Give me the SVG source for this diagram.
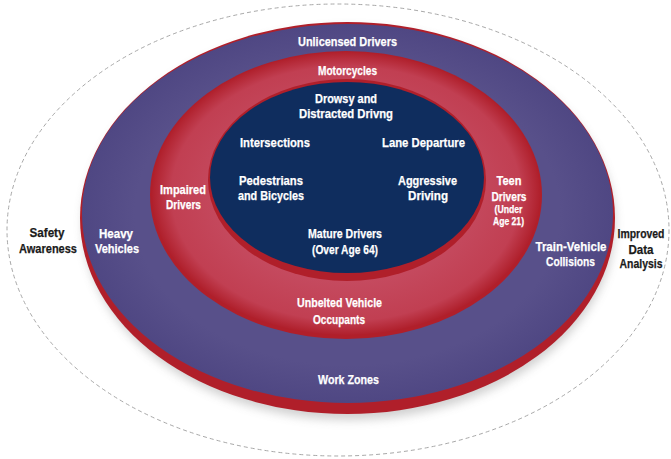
<svg xmlns="http://www.w3.org/2000/svg" width="671" height="459" viewBox="0 0 671 459">
<defs>
<style>
.w{font-family:"Liberation Sans",Arial,sans-serif;font-weight:bold;font-size:13.5px;fill:#ffffff;stroke:#ffffff;stroke-width:0.25;text-anchor:middle}
.s{font-size:11px}
.k{font-family:"Liberation Sans",Arial,sans-serif;font-weight:bold;font-size:13.5px;fill:#1a1a1a;stroke:#1a1a1a;stroke-width:0.25;text-anchor:middle}
</style>
<radialGradient id="pinkG" cx="0.5" cy="0.5" r="0.5">
<stop offset="0.6" stop-color="#c54b60"/>
<stop offset="0.9" stop-color="#c13f52"/>
<stop offset="1" stop-color="#b0202c"/>
</radialGradient>
<radialGradient id="purpG" cx="0.5" cy="0.5" r="0.5">
<stop offset="0.8" stop-color="#58508a"/>
<stop offset="1" stop-color="#4f4783"/>
</radialGradient>
<filter id="blur" x="-10%" y="-10%" width="120%" height="120%">
<feGaussianBlur stdDeviation="5"/>
</filter>
</defs>
<rect width="671" height="459" fill="#ffffff"/>
<ellipse id="dashed-boundary" cx="338" cy="230" rx="331" ry="226" fill="none" stroke="#a8a8a8" stroke-width="1" stroke-dasharray="4 3"/>
<g id="outer-ring">
<ellipse cx="349" cy="224" rx="266" ry="196" fill="#9a9a9a" opacity="0.45" filter="url(#blur)"/>
<ellipse cx="347.5" cy="218" rx="267.5" ry="196" fill="#b01f2a"/>
<ellipse cx="347.5" cy="213.5" rx="265.5" ry="189.5" fill="url(#purpG)"/>
</g>
<g id="middle-ring">
<ellipse cx="346" cy="195" rx="196" ry="144" fill="#b01f2a"/>
<ellipse cx="346" cy="193.5" rx="194" ry="141.5" fill="url(#pinkG)"/>
</g>
<g id="inner-core">
<ellipse cx="347" cy="180" rx="139" ry="101" fill="#b01f2a"/>
<ellipse cx="347" cy="177.5" rx="137" ry="95.5" fill="#0f2d5e"/>
</g>
<g id="labels-outer">
<text class="w" x="347.5" y="46" textLength="99" lengthAdjust="spacingAndGlyphs">Unlicensed Drivers</text>
<text class="w" x="116" y="238" textLength="34" lengthAdjust="spacingAndGlyphs">Heavy</text>
<text class="w" x="117" y="253" textLength="44" lengthAdjust="spacingAndGlyphs">Vehicles</text>
<text class="w" x="571" y="251" textLength="71" lengthAdjust="spacingAndGlyphs">Train-Vehicle</text>
<text class="w" x="570.5" y="266" textLength="49" lengthAdjust="spacingAndGlyphs">Collisions</text>
<text class="w" x="348.5" y="383.5" textLength="61" lengthAdjust="spacingAndGlyphs">Work Zones</text>
</g>
<g id="labels-middle">
<text class="w" x="347.5" y="74.5" textLength="59" lengthAdjust="spacingAndGlyphs">Motorcycles</text>
<text class="w" x="183" y="194" textLength="46" lengthAdjust="spacingAndGlyphs">Impaired</text>
<text class="w" x="183.5" y="209" textLength="35" lengthAdjust="spacingAndGlyphs">Drivers</text>
<text class="w" x="509" y="184.5" textLength="25" lengthAdjust="spacingAndGlyphs">Teen</text>
<text class="w" x="509" y="201" textLength="35" lengthAdjust="spacingAndGlyphs">Drivers</text>
<text class="w s" x="508.5" y="213" textLength="28" lengthAdjust="spacingAndGlyphs">(Under</text>
<text class="w s" x="508.5" y="225" textLength="31" lengthAdjust="spacingAndGlyphs">Age 21)</text>
<text class="w" x="339.5" y="307" textLength="85" lengthAdjust="spacingAndGlyphs">Unbelted Vehicle</text>
<text class="w" x="339" y="323.5" textLength="52" lengthAdjust="spacingAndGlyphs">Occupants</text>
</g>
<g id="labels-inner">
<text class="w" x="346" y="103" textLength="62" lengthAdjust="spacingAndGlyphs">Drowsy and</text>
<text class="w" x="346" y="118" textLength="94" lengthAdjust="spacingAndGlyphs">Distracted Drivng</text>
<text class="w" x="275" y="147" textLength="70" lengthAdjust="spacingAndGlyphs">Intersections</text>
<text class="w" x="423.5" y="147" textLength="83" lengthAdjust="spacingAndGlyphs">Lane Departure</text>
<text class="w" x="271" y="184.5" textLength="64" lengthAdjust="spacingAndGlyphs">Pedestrians</text>
<text class="w" x="271" y="200" textLength="66" lengthAdjust="spacingAndGlyphs">and Bicycles</text>
<text class="w" x="427.5" y="184.5" textLength="59" lengthAdjust="spacingAndGlyphs">Aggressive</text>
<text class="w" x="428" y="200" textLength="40" lengthAdjust="spacingAndGlyphs">Driving</text>
<text class="w" x="345" y="238" textLength="74" lengthAdjust="spacingAndGlyphs">Mature Drivers</text>
<text class="w" x="345" y="254" textLength="66" lengthAdjust="spacingAndGlyphs">(Over Age 64)</text>
</g>
<g id="labels-outside">
<text class="k" x="47" y="237" textLength="35" lengthAdjust="spacingAndGlyphs">Safety</text>
<text class="k" x="48" y="253" textLength="58" lengthAdjust="spacingAndGlyphs">Awareness</text>
<text class="k" x="641" y="237.5" textLength="47" lengthAdjust="spacingAndGlyphs">Improved</text>
<text class="k" x="641" y="253.5" textLength="25" lengthAdjust="spacingAndGlyphs">Data</text>
<text class="k" x="641" y="268" textLength="43" lengthAdjust="spacingAndGlyphs">Analysis</text>
</g>
</svg>
